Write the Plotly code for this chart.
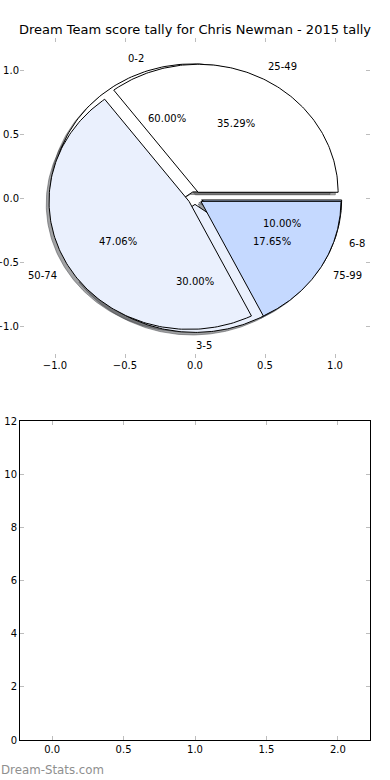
import numpy as np
import plotly.graph_objects as go

# ---------------- data ----------------
title_text = "Dream Team score tally for Chris Newman - 2015 tally"
inner_labels = ["0-2", "3-5", "6-8"]
inner_values = [6, 3, 1]
outer_labels = ["25-49", "50-74", "75-99"]
outer_values = [6, 8, 3]
pie_colors = ["#FFFFFF", "#EAF0FD", "#C5D9FF"]
pie_ticks = [-1.0, -0.5, 0.0, 0.5, 1.0]
bar_categories = []
bar_values = []
bar_xticks = [0.0, 0.5, 1.0, 1.5, 2.0]
bar_yticks = [0, 2, 4, 6, 8, 10, 12]
watermark = "Dream-Stats.com"

# ---------------- pie styling (matplotlib-like) ----------------
EXPLODE = 0.05
LABEL_DIST = 1.1
PCT_DIST = 0.6
SHADOW_DX, SHADOW_DY = -0.02, -0.02
RADIUS = 1.0
FONT = "DejaVu Sans"


def pie_geometry(values):
    total = float(sum(values))
    out = []
    t1 = 0.0
    for v in values:
        frac = v / total
        t2 = t1 + frac
        a1, a2 = 2 * np.pi * t1, 2 * np.pi * t2
        am = 0.5 * (a1 + a2)
        cx, cy = EXPLODE * np.cos(am), EXPLODE * np.sin(am)
        t = np.linspace(a1, a2, 150)
        xs = np.concatenate([[cx], cx + RADIUS * np.cos(t), [cx]])
        ys = np.concatenate([[cy], cy + RADIUS * np.sin(t), [cy]])
        out.append(dict(xs=xs, ys=ys, am=am, cx=cx, cy=cy, pct=100 * frac))
        t1 = t2
    return out


pies = [(inner_labels, inner_values), (outer_labels, outer_values)]
geoms = [pie_geometry(v) for _, v in pies]

fig = go.Figure()


def shade(hexcol):
    h = hexcol.lstrip("#")
    r, g, b = (int(h[i:i + 2], 16) for i in (0, 2, 4))
    return f"rgba({int(r*0.3)},{int(g*0.3)},{int(b*0.3)},0.5)"


# shadows first
for geom in geoms:
    for i, w in enumerate(geom):
        fig.add_trace(go.Scatter(
            x=w["xs"] + SHADOW_DX, y=w["ys"] + SHADOW_DY, mode="lines",
            fill="toself", fillcolor=shade(pie_colors[i]),
            line=dict(color=shade(pie_colors[i]), width=1),
            hoverinfo="skip", showlegend=False, xaxis="x", yaxis="y"))

annotations = []
for (labels, values), geom in zip(pies, geoms):
    for i, w in enumerate(geom):
        fig.add_trace(go.Scatter(
            x=w["xs"], y=w["ys"], mode="lines", fill="toself",
            fillcolor=pie_colors[i], line=dict(color="black", width=1),
            hoverinfo="skip", showlegend=False, xaxis="x", yaxis="y"))
        xt = w["cx"] + LABEL_DIST * RADIUS * np.cos(w["am"])
        yt = w["cy"] + LABEL_DIST * RADIUS * np.sin(w["am"])
        annotations.append(dict(
            x=xt, y=yt, xref="x", yref="y", text=labels[i], showarrow=False,
            xanchor="left" if xt > -1e-6 else "right", yanchor="middle",
            font=dict(family=FONT, size=10, color="black"), borderpad=0))
        xp = w["cx"] + PCT_DIST * RADIUS * np.cos(w["am"])
        yp = w["cy"] + PCT_DIST * RADIUS * np.sin(w["am"])
        annotations.append(dict(
            x=xp, y=yp, xref="x", yref="y", text=f"{w['pct']:.2f}%",
            showarrow=False, xanchor="center", yanchor="middle",
            font=dict(family=FONT, size=10, color="black"), borderpad=0))

# empty bottom chart (no bars in reference)
fig.add_trace(go.Bar(x=bar_categories, y=bar_values, xaxis="x2", yaxis="y2",
                     showlegend=False, hoverinfo="skip"))

W, H = 390, 780
annotations.append(dict(
    x=0.5, y=1 - 30 / H, xref="paper", yref="paper", text=title_text,
    showarrow=False, xanchor="center", yanchor="middle",
    font=dict(family=FONT, size=13, color="black")))
annotations.append(dict(
    x=0, y=1 - 770 / H, xref="paper", yref="paper", text=watermark,
    showarrow=False, xanchor="left", yanchor="middle", borderpad=0,
    font=dict(family=FONT, size=11.8, color="#8f8f8f")))

tickfont = dict(family=FONT, size=10, color="black")
common_ticks = dict(ticks="inside", ticklen=4, tickwidth=1, tickcolor="#bdbdbd",
                    showgrid=False, zeroline=False, tickfont=tickfont,
                    fixedrange=True, automargin=False)

fig.update_layout(
    width=W, height=H,
    margin=dict(l=0, r=0, t=0, b=0),
    paper_bgcolor="white", plot_bgcolor="white",
    showlegend=False, hovermode=False,
    annotations=annotations,
    xaxis=dict(domain=[20 / W, 370 / W], range=[-1.25, 1.25], anchor="y",
               tickvals=pie_ticks, tickformat=".1f", showline=False,
               mirror="ticks", **common_ticks),
    yaxis=dict(domain=[1 - 358 / H, 1 - 38 / H], range=[-1.25, 1.25], anchor="x",
               tickvals=pie_ticks, tickformat=".1f", showline=False,
               mirror="ticks", **common_ticks),
    xaxis2=dict(domain=[20 / W, 370 / W], range=[-0.225, 2.225], anchor="y2",
                tickvals=bar_xticks, tickformat=".1f", showline=True,
                linecolor="black", linewidth=1, mirror="ticks", **common_ticks),
    yaxis2=dict(domain=[1 - 740 / H, 1 - 421 / H], range=[0, 12], anchor="x2",
                tickvals=bar_yticks, tickformat="d", showline=True,
                linecolor="black", linewidth=1, mirror="ticks", **common_ticks),
)

fig.write_html("out.html", config={"displayModeBar": False},
               post_script="document.body.style.margin='0';"
                           "document.body.style.overflow='hidden';")
